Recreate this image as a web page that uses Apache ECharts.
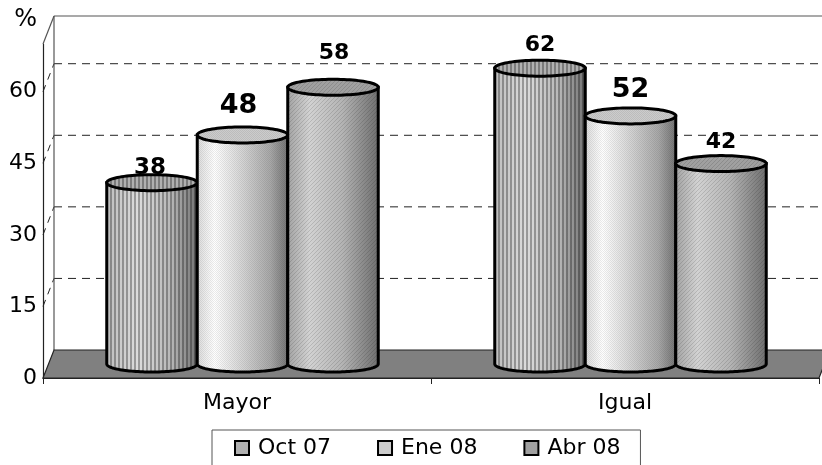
<!DOCTYPE html>
<html><head><meta charset="utf-8">
<style>html,body{margin:0;padding:0;background:#fff}#c{width:822px;height:465px}</style>
<script src="https://cdn.jsdelivr.net/npm/echarts@6/dist/echarts.min.js"></script>
</head><body><div id="c"></div>
<script>
const categories = ['Mayor', 'Igual'];
const seriesNames = ['Oct 07', 'Ene 08', 'Abr 08'];
const oct07 = [38, 62];
const ene08 = [48, 52];
const abr08 = [58, 42];
const yTicks = [0, 15, 30, 45, 60];
const yMax = 70;

const FONT = '"DejaVu Sans", Verdana, sans-serif';
const DEPTH_X = 11, DEPTH_Y = 28, BAR_W = 90.5, RY = 8;
const labelStyle = [
  [{size: 23, gap: 15, dx: -2}, {size: 22, gap: 23, dx: 0}],
  [{size: 27, gap: 29, dx: -4}, {size: 27, gap: 26, dx: 0}],
  [{size: 22, gap: 34, dx: 1}, {size: 22, gap: 21, dx: 0}]
];
const bodyStops = [
  [[0, '#bcbcbc'], [0.35, '#dcdcdc'], [0.7, '#b8b8b8'], [1, '#707070']],
  [[0, '#d8d8d8'], [0.2, '#ffffff'], [0.5, '#d4d4d4'], [0.8, '#a8a8a8'], [1, '#707070']],
  [[0, '#a0a0a0'], [0.25, '#d2d2d2'], [0.6, '#b4b4b4'], [1, '#6c6c6c']]
];
const capFill = ['#b0b0b0', '#cccccc', '#a0a0a0'];

function makePattern(kind) {
  const w = kind === 0 ? 4 : kind === 1 ? 2 : 4;
  const h = kind === 0 ? 1 : kind === 1 ? 2 : 4;
  const c = document.createElement('canvas');
  c.width = w; c.height = h;
  const g = c.getContext('2d');
  if (kind === 0) { g.fillStyle = 'rgba(0,0,0,0.3)'; g.fillRect(2, 0, 2, 1); }
  else if (kind === 1) { g.fillStyle = 'rgba(0,0,0,0.08)'; g.fillRect(0, 0, 1, 1); g.fillRect(1, 1, 1, 1); }
  else { g.fillStyle = 'rgba(0,0,0,0.13)'; for (let i = 0; i < 4; i++) g.fillRect(i, 3 - i, 1, 1); }
  return {image: c, repeat: 'repeat'};
}
const patterns = [0, 1, 2].map(makePattern);

function ellipsePts(cx, cy, rx, ry, from, to, n) {
  const pts = [];
  for (let i = 0; i <= n; i++) {
    const a = from + (to - from) * i / n;
    pts.push([cx + rx * Math.cos(a), cy + ry * Math.sin(a)]);
  }
  return pts;
}

function cylinderSeries(name, values, idx) {
  return {
    type: 'custom', name, clip: false, silent: true, z: 5 + idx,
    data: values.map((v, i) => [i, v]),
    encode: {x: 0, y: 1},
    renderItem(params, api) {
      const catIdx = api.value(0), val = api.value(1);
      const top = api.coord([catIdx, val]), base = api.coord([catIdx, 0]);
      const cx = top[0] + (idx - 1) * BAR_W + DEPTH_X / 2;
      const yTop = top[1] - DEPTH_Y / 2, yBase = base[1] - DEPTH_Y / 2;
      const rx = BAR_W / 2;
      const pts = [[cx - rx, yTop], [cx + rx, yTop]]
        .concat(ellipsePts(cx, yBase, rx, RY, 0, Math.PI, 60));
      const cap = ellipsePts(cx, yTop, rx, RY, 0, Math.PI * 2, 90);
      const ls = labelStyle[idx][catIdx];
      return {type: 'group', children: [
        {type: 'polygon', shape: {points: pts}, style: {
          fill: new echarts.graphic.LinearGradient(0, 0, 1, 0,
            bodyStops[idx].map(s => ({offset: s[0], color: s[1]}))),
          stroke: '#000', lineWidth: 3}},
        {type: 'polygon', shape: {points: pts}, style: {fill: patterns[idx]}},
        {type: 'text', style: {text: String(val), x: cx + ls.dx, y: yTop - ls.gap,
          align: 'center', verticalAlign: 'middle',
          font: 'bold ' + ls.size + 'px ' + FONT, fill: '#000'}},
        {type: 'polygon', shape: {points: cap}, style: {fill: capFill[idx]}},
        {type: 'polygon', shape: {points: cap}, style: {fill: patterns[idx], stroke: '#000', lineWidth: 3}}
      ]};
    }
  };
}

const wallSeries = {
  type: 'custom', name: 'wall', clip: false, silent: true, z: 1,
  data: [[0]],
  encode: {x: 0},
  renderItem(params, api) {
    const o = api.coord([0, 0]);
    const size = api.size([1, 0]);
    const x0 = o[0] - size[0] / 2;
    const x1 = x0 + size[0] * categories.length;
    const y0 = o[1];
    const yTop = api.coord([0, yMax])[1];
    const children = [];
    const line = (a, b, c, d, stroke, w, dash) => ({type: 'line',
      shape: {x1: a, y1: b, x2: c, y2: d},
      style: {stroke, lineWidth: w, lineDash: dash || null}});
    yTicks.slice(1).forEach(t => {
      const y = api.coord([0, t])[1];
      children.push(line(x0 + DEPTH_X, y - DEPTH_Y, x1 + DEPTH_X, y - DEPTH_Y, '#222', 1, [8, 6]));
      children.push(line(x0, y, x0 + DEPTH_X, y - DEPTH_Y, '#222', 1, [7, 6]));
    });
    children.push(line(x0 + DEPTH_X, yTop - DEPTH_Y, x1 + DEPTH_X, yTop - DEPTH_Y, '#555', 1.2));
    children.push(line(x0 + DEPTH_X, yTop - DEPTH_Y, x0 + DEPTH_X, y0 - DEPTH_Y, '#555', 1.2));
    children.push(line(x0, yTop, x0 + DEPTH_X, yTop - DEPTH_Y, '#555', 1.2));
    children.push({type: 'polygon', shape: {points: [
      [x0, y0], [x0 + DEPTH_X, y0 - DEPTH_Y], [x1 + DEPTH_X, y0 - DEPTH_Y], [x1, y0]]},
      style: {fill: '#808080', stroke: '#222', lineWidth: 1.2}});
    return {type: 'group', children};
  }
};

const chart = echarts.init(document.getElementById('c'), null, {renderer: 'canvas'});
chart.setOption({
  animation: false,
  backgroundColor: '#fff',
  grid: {left: 43, top: 44, width: 776, height: 334, containLabel: false},
  legend: {
    left: 212, top: 430,
    padding: [7, 20, 7, 22],
    itemGap: 46, itemWidth: 14, itemHeight: 14,
    borderColor: '#555', borderWidth: 1, backgroundColor: '#fff',
    textStyle: {fontFamily: FONT, fontSize: 22, color: '#000', padding: [0, 0, 0, 4]},
    data: seriesNames.map((n, i) => ({
      name: n, icon: 'rect',
      itemStyle: {color: capFill[i], borderColor: '#000', borderWidth: 2}
    }))
  },
  xAxis: {
    type: 'category', data: categories,
    axisLine: {show: true, lineStyle: {color: '#222', width: 1}},
    axisTick: {show: true, length: 6, lineStyle: {color: '#222'}},
    axisLabel: {fontFamily: FONT, fontSize: 22, color: '#000', margin: 14},
    splitLine: {show: false}
  },
  yAxis: {
    type: 'value', min: 0, max: yMax, interval: 15,
    name: '%', nameLocation: 'end', nameGap: 12,
    nameTextStyle: {fontFamily: FONT, fontSize: 24, color: '#000', align: 'right', padding: [0, 6, 0, 0]},
    axisLine: {show: true, lineStyle: {color: '#222', width: 1.2}},
    axisTick: {show: false},
    axisLabel: {fontFamily: FONT, fontSize: 22, color: '#000', margin: 6, showMaxLabel: false},
    splitLine: {show: false}
  },
  series: [wallSeries,
    cylinderSeries(seriesNames[0], oct07, 0),
    cylinderSeries(seriesNames[1], ene08, 1),
    cylinderSeries(seriesNames[2], abr08, 2)]
});
</script></body></html>
